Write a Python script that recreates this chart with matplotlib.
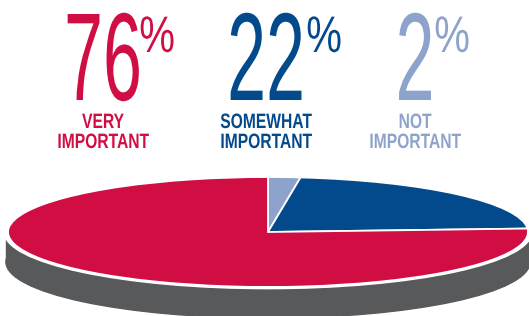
import matplotlib
matplotlib.use("Agg")
import matplotlib.pyplot as plt
from matplotlib.patches import Ellipse, Rectangle
from matplotlib.patheffects import AbstractPathEffect
from matplotlib.transforms import Affine2D

# data, in pie order (clockwise from 12 o'clock)
labels = ["NOT\nIMPORTANT", "SOMEWHAT\nIMPORTANT", "VERY\nIMPORTANT"]
values = [2, 22, 76]
colors = ["#8EA3CB", "#034A8C", "#D10E44"]

# headline columns, left to right
head_order = [2, 1, 0]
head_x = [103, 266, 415]
pct_x = [157, 324, 452]

FONT = ["Liberation Sans Narrow", "Liberation Sans", "DejaVu Sans"]


class Tall(AbstractPathEffect):
    # stretch glyphs upward from the baseline -> condensed look
    def __init__(self, sy):
        super().__init__()
        self.sy = sy

    def draw_path(self, renderer, gc, tpath, affine, rgbFace=None):
        renderer.draw_path(gc, tpath, Affine2D().scale(1, self.sy) + affine,
                           rgbFace)


fig = plt.figure(figsize=(5.29, 3.16), dpi=100)

# text layer in pixel coordinates
tx = fig.add_axes([0, 0, 1, 1])
tx.set_xlim(0, 529)
tx.set_ylim(316, 0)
tx.axis("off")

for col, i in enumerate(head_order):
    tx.text(head_x[col], 100, str(values[i]), color=colors[i], fontsize=50.4,
            family=FONT, ha="center", va="baseline",
            path_effects=[Tall(1.786)])
    tx.text(pct_x[col], 52, "%", color=colors[i], fontsize=28.9,
            family=FONT, ha="center", va="baseline",
            path_effects=[Tall(1.28)])
    for k, line in enumerate(labels[i].split("\n")):
        tx.text(head_x[col], 128 + 20 * k, line, color=colors[i],
                fontsize=11.25, family=FONT, fontweight="bold",
                ha="center", va="baseline", path_effects=[Tall(1.333)])

# pie, squashed into an ellipse
ax = fig.add_axes([8 / 529, 29 / 316, 520 / 529, 110 / 316])
depth = 30 / 55

ax.add_patch(Rectangle((-1.008, -depth), 2.016, depth, color="#58595B",
                       zorder=0, clip_on=False))
ax.add_patch(Ellipse((0, -depth), 2.016, 2.04, color="#58595B",
                     zorder=0, clip_on=False))
ax.add_patch(Ellipse((0, 0), 2.03, 2.06, color="white", zorder=0.5,
                     clip_on=False))

ax.pie(values, colors=colors, startangle=90, counterclock=False, radius=1,
       wedgeprops=dict(edgecolor="white", linewidth=1.3))
ax.set_aspect("auto")
ax.set_xlim(-1, 1)
ax.set_ylim(-1, 1)
ax.axis("off")

fig.savefig("out.png", dpi=100)
